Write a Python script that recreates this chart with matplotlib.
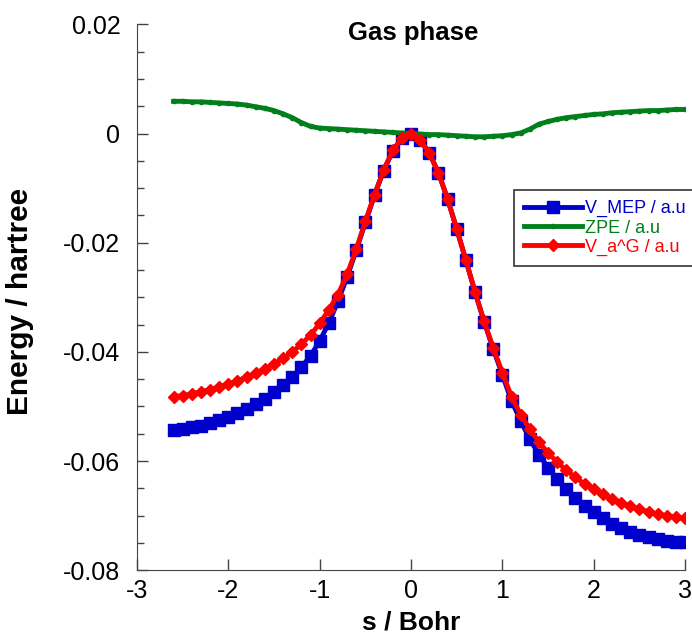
import numpy as np
import matplotlib
matplotlib.use("Agg")
import matplotlib.pyplot as plt
from matplotlib.ticker import MultipleLocator

plt.rcParams["font.family"] = ["Liberation Sans", "DejaVu Sans"]

# reaction coordinate s / Bohr
s = [-2.6, -2.5, -2.4, -2.3, -2.2, -2.1, -2.0, -1.9, -1.8, -1.7,
     -1.6, -1.5, -1.4, -1.3, -1.2, -1.1, -1.0, -0.9, -0.8, -0.7,
     -0.6, -0.5, -0.4, -0.3, -0.2, -0.1, 0.0, 0.1, 0.2, 0.3,
     0.4, 0.5, 0.6, 0.7, 0.8, 0.9, 1.0, 1.1, 1.2, 1.3,
     1.4, 1.5, 1.6, 1.7, 1.8, 1.9, 2.0, 2.1, 2.2, 2.3,
     2.4, 2.5, 2.6, 2.7, 2.8, 2.9, 3.0]

v_mep = [-0.0543, -0.0541, -0.0538, -0.0535, -0.0530, -0.0525, -0.0519, -0.0512, -0.0505, -0.0496,
         -0.0486, -0.0474, -0.0461, -0.0446, -0.0428, -0.0407, -0.0380, -0.0347, -0.0307, -0.0263,
         -0.0214, -0.0163, -0.0113, -0.0068, -0.0032, -0.0009, 0.0, -0.0012, -0.0036, -0.0072,
         -0.0120, -0.0175, -0.0232, -0.0290, -0.0345, -0.0395, -0.0442, -0.0490, -0.0526, -0.0560,
         -0.0588, -0.0612, -0.0633, -0.0652, -0.0668, -0.0682, -0.0694, -0.0705, -0.0715, -0.0723,
         -0.0730, -0.0735, -0.0740, -0.0743, -0.0746, -0.0748, -0.0749]

zpe = [0.0059, 0.0059, 0.0058, 0.0058, 0.0057, 0.0056, 0.0055, 0.0054, 0.0052, 0.0049,
       0.0046, 0.0042, 0.0036, 0.0029, 0.0020, 0.0013, 0.0010, 0.0009, 0.0008, 0.0007,
       0.0006, 0.0005, 0.0004, 0.0003, 0.0002, 0.0001, 0.0, -0.0001, -0.0002, -0.0002,
       -0.0003, -0.0004, -0.0005, -0.0006, -0.0006, -0.0005, -0.0004, -0.0002, 0.0001, 0.0008,
       0.0017, 0.0022, 0.0026, 0.0029, 0.0031, 0.0033, 0.0035, 0.0036, 0.0038, 0.0039,
       0.0040, 0.0041, 0.0042, 0.0042, 0.0043, 0.0044, 0.0044]

v_ag = [-0.0482, -0.0480, -0.0477, -0.0473, -0.0469, -0.0464, -0.0459, -0.0453, -0.0446, -0.0439,
        -0.0431, -0.0422, -0.0412, -0.0400, -0.0386, -0.0369, -0.0348, -0.0323, -0.0295, -0.0258,
        -0.0212, -0.0161, -0.0112, -0.0067, -0.0031, -0.0008, 0.0, -0.0012, -0.0036, -0.0072,
        -0.0120, -0.0175, -0.0232, -0.0290, -0.0344, -0.0393, -0.0438, -0.0482, -0.0515, -0.0542,
        -0.0565, -0.0585, -0.0602, -0.0617, -0.0630, -0.0642, -0.0652, -0.0661, -0.0669, -0.0676,
        -0.0682, -0.0688, -0.0693, -0.0697, -0.0700, -0.0703, -0.0705]

fig = plt.figure(figsize=(6.92, 6.4), dpi=100)
ax = fig.add_axes([0.198, 0.109, 0.792, 0.853])

ax.plot(s, v_mep, color="#0000cc", lw=3.5, marker="s", ms=8, label="V_MEP / a.u")
ax.plot(s, zpe, color="#007f1a", lw=3.5, marker="o", ms=3, label="ZPE / a.u")
ax.plot(s, v_ag, color="#ff0000", lw=3.5, marker="D", ms=6.5, label="V_a^G / a.u")

ax.set_xlim(-3, 3)
ax.set_ylim(-0.08, 0.02)
ax.set_xticks([-3, -2, -1, 0, 1, 2, 3])
ax.set_xticklabels(["-3", "-2", "-1", "0", "1", "2", "3"])
ax.set_yticks([-0.08, -0.06, -0.04, -0.02, 0, 0.02])
ax.set_yticklabels(["-0.08", "-0.06", "-0.04", "-0.02", "0", "0.02"])
ax.yaxis.set_minor_locator(MultipleLocator(0.005))
ax.tick_params(axis="both", which="major", direction="in", length=8, width=1,
               labelsize=18, color="#444444")
ax.tick_params(axis="y", which="minor", direction="in", length=5, width=1, color="#444444")
ax.tick_params(axis="y", pad=12)
ax.tick_params(axis="x", pad=6)

for side in ["top", "right"]:
    ax.spines[side].set_visible(False)
for side in ["left", "bottom"]:
    ax.spines[side].set_color("#444444")

ax.set_xlabel("s / Bohr", fontsize=19, fontweight="bold", labelpad=6)
ax.set_ylabel("Energy / hartree", fontsize=21.5, fontweight="bold")
ax.yaxis.set_label_coords(-0.188, 0.493)
ax.text(0.503, 0.9707, "Gas phase", transform=ax.transAxes, ha="center", va="baseline",
        fontsize=18.5, fontweight="bold")

leg = ax.legend(loc="upper left", bbox_to_anchor=(0.688, 0.696), fontsize=13,
                frameon=True, fancybox=False, handlelength=3.2, handletextpad=0.17,
                borderpad=0.55, labelspacing=0.12, borderaxespad=0)
leg.get_frame().set_edgecolor("black")
leg.get_frame().set_linewidth(1.2)
for txt, line in zip(leg.get_texts(), leg.get_lines()):
    txt.set_color(line.get_color())

fig.savefig("out.png", dpi=100)
